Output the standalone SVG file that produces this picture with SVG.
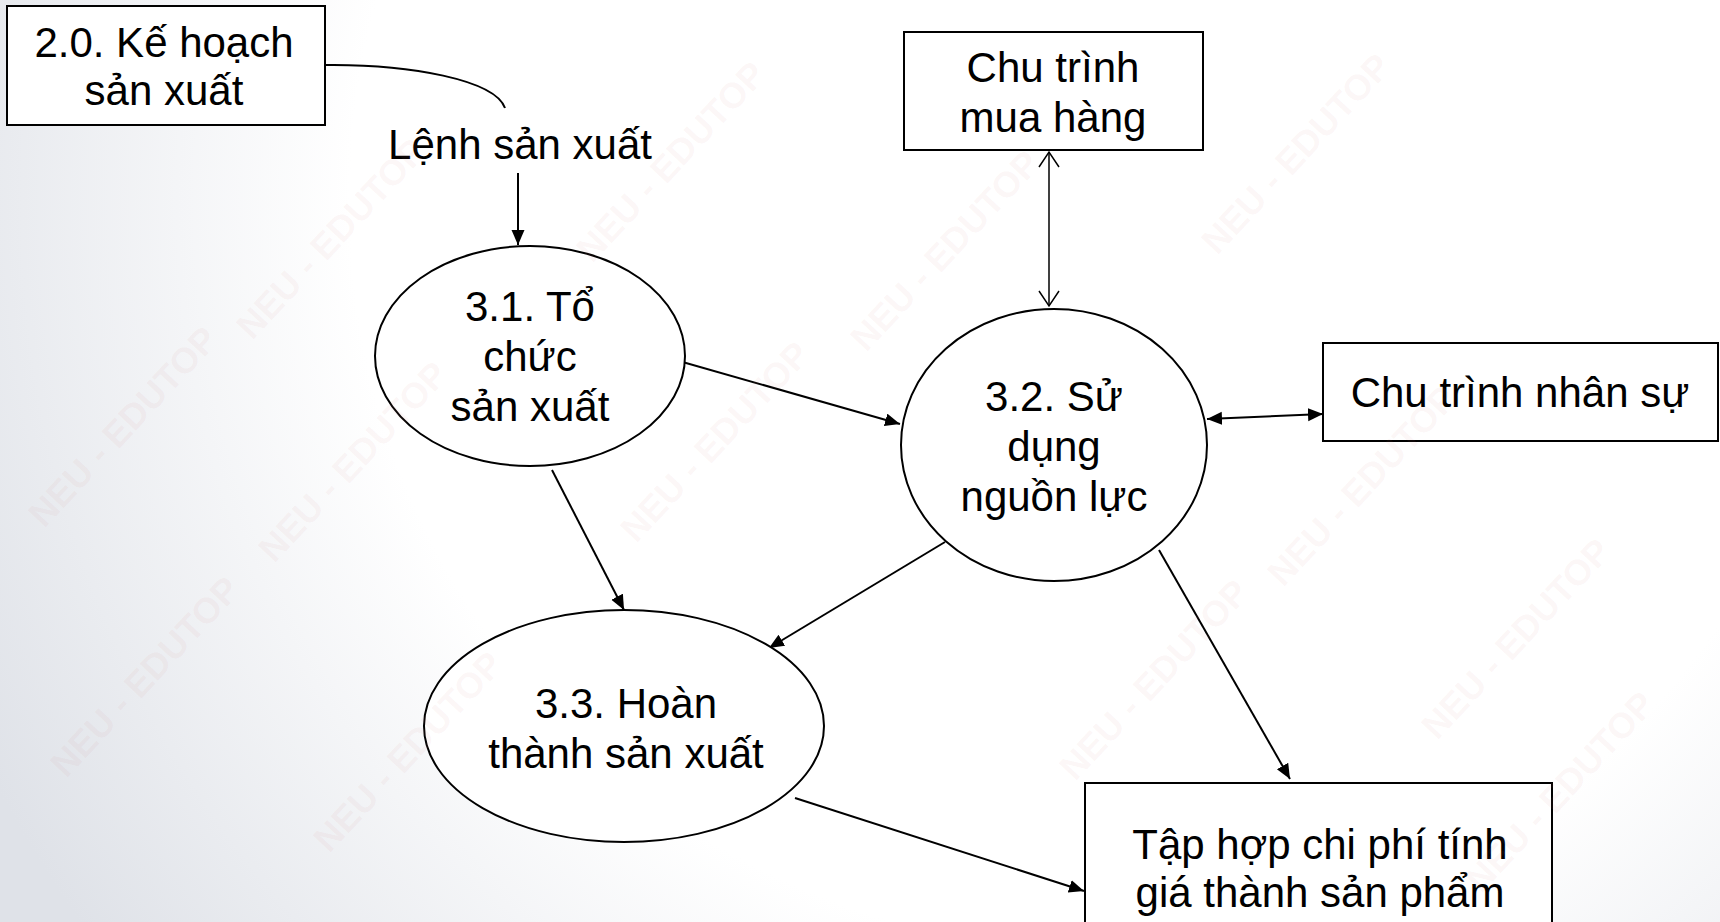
<svg xmlns="http://www.w3.org/2000/svg" width="1720" height="922" viewBox="0 0 1720 922">
  <defs>
    <radialGradient id="bg" cx="1100" cy="200" r="1250" gradientUnits="userSpaceOnUse">
      <stop offset="0" stop-color="#ffffff"/>
      <stop offset="0.6" stop-color="#ffffff"/>
      <stop offset="1" stop-color="#dfe2e8"/>
    </radialGradient>
    <marker id="head" markerUnits="userSpaceOnUse" markerWidth="16" markerHeight="14" refX="15" refY="6.5" orient="auto-start-reverse">
      <path d="M0,0 L15,6.5 L0,13 Z" fill="#000"/>
    </marker>
    <marker id="open" markerUnits="userSpaceOnUse" markerWidth="18" markerHeight="24" refX="16" refY="11" orient="auto-start-reverse">
      <path d="M1,1 L16,11 L1,21" fill="none" stroke="#000" stroke-width="1.5"/>
    </marker>
  </defs>
  <style>
    .box { fill: #ffffff; stroke: #000; stroke-width: 2; }
    .proc { fill: #ffffff; stroke: #000; stroke-width: 2; }
    .lbl { font-family: "Liberation Sans", Arial, sans-serif; font-size: 42px; fill: #000; text-anchor: middle; }
    .flow { fill: none; stroke: #000; stroke-width: 2; }
    .flow-thin { fill: none; stroke: #000; stroke-width: 1.5; }
    .wm { font-family: "Liberation Sans", Arial, sans-serif; font-weight: bold; font-size: 36px; fill: #d07f7f; fill-opacity: 0.07; text-anchor: middle; }
  </style>

  <rect x="0" y="0" width="1720" height="922" fill="url(#bg)"/>

  <!-- data flows -->
  <g id="connectors">
    <path class="flow" d="M325,65 C410,64 495,80 505,108"/>
    <text class="lbl" x="520" y="159">Lệnh sản xuất</text>
    <line class="flow" x1="518" y1="173" x2="518" y2="245" marker-end="url(#head)"/>
    <line class="flow" x1="679" y1="361" x2="900" y2="424" marker-end="url(#head)"/>
    <line class="flow" x1="552" y1="470" x2="624" y2="610" marker-end="url(#head)"/>
    <line class="flow" x1="945" y1="542" x2="769" y2="648" marker-end="url(#head)"/>
    <line class="flow" x1="1159" y1="550" x2="1290" y2="779" marker-end="url(#head)"/>
    <line class="flow" x1="795" y1="798" x2="1084" y2="891" marker-end="url(#head)"/>
    <line class="flow-thin" x1="1049" y1="152" x2="1049" y2="306" marker-start="url(#open)" marker-end="url(#open)"/>
    <line class="flow" x1="1207" y1="419" x2="1323" y2="414" marker-start="url(#head)" marker-end="url(#head)"/>
  </g>

  <!-- external entities -->
  <g id="ke-hoach-san-xuat">
    <rect class="box" x="7" y="6" width="318" height="119"/>
    <text class="lbl" x="164" y="57">2.0. Kế hoạch</text>
    <text class="lbl" x="164" y="105">sản xuất</text>
  </g>

  <g id="chu-trinh-mua-hang">
    <rect class="box" x="904" y="32" width="299" height="118"/>
    <text class="lbl" x="1053" y="82">Chu trình</text>
    <text class="lbl" x="1053" y="132">mua hàng</text>
  </g>

  <g id="chu-trinh-nhan-su">
    <rect class="box" x="1323" y="343" width="395" height="98"/>
    <text class="lbl" x="1520" y="407">Chu trình nhân sự</text>
  </g>

  <g id="tap-hop-chi-phi">
    <rect class="box" x="1085" y="783" width="467" height="145"/>
    <text class="lbl" x="1320" y="859">Tập hợp chi phí tính</text>
    <text class="lbl" x="1320" y="907">giá thành sản phẩm</text>
  </g>

  <!-- processes -->
  <g id="to-chuc-san-xuat">
    <ellipse class="proc" cx="530" cy="356" rx="155" ry="110"/>
    <text class="lbl" x="530" y="321">3.1. Tổ</text>
    <text class="lbl" x="530" y="371">chức</text>
    <text class="lbl" x="530" y="421">sản xuất</text>
  </g>

  <g id="su-dung-nguon-luc">
    <ellipse class="proc" cx="1054" cy="445" rx="153" ry="136"/>
    <text class="lbl" x="1054" y="411">3.2. Sử</text>
    <text class="lbl" x="1054" y="461">dụng</text>
    <text class="lbl" x="1054" y="511">nguồn lực</text>
  </g>

  <g id="hoan-thanh-san-xuat">
    <ellipse class="proc" cx="624" cy="726" rx="200" ry="116"/>
    <text class="lbl" x="626" y="718">3.3. Hoàn</text>
    <text class="lbl" x="626" y="768">thành sản xuất</text>
  </g>

  <!-- faint watermark overlay -->
  <g id="watermark">
    <text class="wm" transform="translate(340,247) rotate(-47)">NEU - EDUTOP</text>
    <text class="wm" transform="translate(680,170) rotate(-47)">NEU - EDUTOP</text>
    <text class="wm" transform="translate(954,259) rotate(-47)">NEU - EDUTOP</text>
    <text class="wm" transform="translate(1305,162) rotate(-47)">NEU - EDUTOP</text>
    <text class="wm" transform="translate(132,435) rotate(-47)">NEU - EDUTOP</text>
    <text class="wm" transform="translate(362,470) rotate(-47)">NEU - EDUTOP</text>
    <text class="wm" transform="translate(724,450) rotate(-47)">NEU - EDUTOP</text>
    <text class="wm" transform="translate(1371,494) rotate(-47)">NEU - EDUTOP</text>
    <text class="wm" transform="translate(154,685) rotate(-47)">NEU - EDUTOP</text>
    <text class="wm" transform="translate(417,760) rotate(-47)">NEU - EDUTOP</text>
    <text class="wm" transform="translate(1163,688) rotate(-47)">NEU - EDUTOP</text>
    <text class="wm" transform="translate(1525,647) rotate(-47)">NEU - EDUTOP</text>
    <text class="wm" transform="translate(1569,800) rotate(-47)">NEU - EDUTOP</text>
  </g>
</svg>
